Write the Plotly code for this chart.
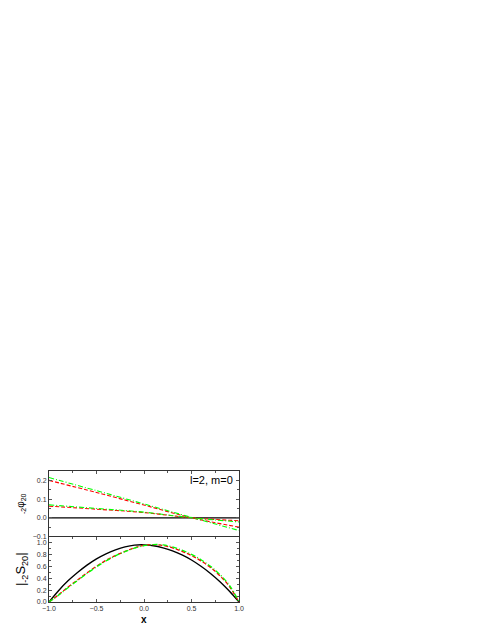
import plotly.graph_objects as go
from plotly.subplots import make_subplots

# x grid for the top panel curves
x_top = [-1.0, -0.5, 0.0, 0.5, 1.0]
phi_green_hi = [0.215, 0.145, 0.074, 0.002, -0.068]
phi_red_hi = [0.200, 0.135, 0.068, 0.000, -0.050]
phi_green_lo = [0.069, 0.050, 0.030, 0.000, -0.022]
phi_red_lo = [0.062, 0.046, 0.028, 0.000, -0.016]
phi_black = [0.0, 0.0, 0.0, 0.0, 0.0]

# x grid for the bottom panel curves
x_bot = [-1.0, -0.9, -0.8, -0.7, -0.6, -0.5, -0.4, -0.3, -0.2, -0.1, 0.0,
         0.1, 0.2, 0.3, 0.4, 0.5, 0.6, 0.7, 0.8, 0.9, 1.0]
s_black = [0.0, 0.19, 0.355, 0.495, 0.62, 0.725, 0.81, 0.875, 0.925, 0.955, 0.96,
           0.945, 0.91, 0.86, 0.79, 0.705, 0.60, 0.48, 0.34, 0.18, 0.0]
s_red = [0.0, 0.12, 0.25, 0.37, 0.49, 0.60, 0.70, 0.78, 0.85, 0.91, 0.95,
         0.965, 0.95, 0.91, 0.85, 0.78, 0.69, 0.58, 0.44, 0.26, 0.0]
s_green = [0.0, 0.115, 0.24, 0.36, 0.48, 0.59, 0.69, 0.775, 0.845, 0.905, 0.945,
           0.965, 0.96, 0.925, 0.87, 0.80, 0.71, 0.60, 0.46, 0.28, 0.0]

FONT = 'Arial, Liberation Sans, sans-serif'
RED_DASH = '4px,2px'
GREEN_DASH = '5px,2px,1px,2px'

fig = make_subplots(rows=2, cols=1, shared_xaxes=True, vertical_spacing=0)

# top panel
fig.add_trace(go.Scatter(x=x_top, y=phi_black, mode='lines',
                         line=dict(color='black', width=1.3)), row=1, col=1)
for ys, col, dash in [(phi_red_hi, '#ff0000', RED_DASH), (phi_green_hi, '#00ff00', GREEN_DASH),
                      (phi_red_lo, '#ff0000', RED_DASH), (phi_green_lo, '#00ff00', GREEN_DASH)]:
    fig.add_trace(go.Scatter(x=x_top, y=ys, mode='lines',
                             line=dict(color=col, width=1.1, dash=dash, shape='spline')),
                  row=1, col=1)

# bottom panel
fig.add_trace(go.Scatter(x=x_bot, y=s_black, mode='lines',
                         line=dict(color='black', width=1.4, shape='spline')), row=2, col=1)
fig.add_trace(go.Scatter(x=x_bot, y=s_red, mode='lines',
                         line=dict(color='#ff0000', width=1.3, dash=RED_DASH, shape='spline')),
              row=2, col=1)
fig.add_trace(go.Scatter(x=x_bot, y=s_green, mode='lines',
                         line=dict(color='#00ff00', width=1.3, dash=GREEN_DASH, shape='spline')),
              row=2, col=1)

axis_common = dict(showline=True, linecolor='#333', linewidth=1,
                   ticks='inside', ticklen=3, tickcolor='#555', showgrid=False, zeroline=False,
                   tickfont=dict(family=FONT, size=7, color='#333'))

fig.update_xaxes(range=[-1, 1], dtick=0.5, tickformat='.1f',
                 minor=dict(ticks='inside', ticklen=2, dtick=0.25, tickcolor='#555'),
                 **axis_common)
fig.update_xaxes(showticklabels=False, side='top', mirror=False, row=1, col=1)
fig.update_xaxes(mirror='ticks', row=2, col=1)

fig.update_yaxes(range=[-0.1, 0.25], dtick=0.1, tickformat='.1f', mirror='ticks',
                 minor=dict(ticks='inside', ticklen=2, dtick=0.05, tickcolor='#555'),
                 title=dict(text='<sub>-2</sub>φ<sub>20</sub>',
                            font=dict(family=FONT, size=10, color='black'), standoff=6),
                 row=1, col=1, **axis_common)
fig.update_yaxes(range=[0, 1.1], tickvals=[0, 0.2, 0.4, 0.6, 0.8, 1.0], tickformat='.1f',
                 mirror='ticks',
                 minor=dict(ticks='inside', ticklen=2, tickvals=[0.1, 0.3, 0.5, 0.7, 0.9],
                            tickcolor='#555'),
                 title=dict(text='|<sub>-2</sub>S<sub>20</sub>|',
                            font=dict(family=FONT, size=13, color='black'), standoff=8),
                 row=2, col=1, **axis_common)

fig.add_annotation(x=0.96, y=0.2, xref='x', yref='y', text='l=2, m=0', showarrow=False,
                   xanchor='right', yanchor='middle',
                   font=dict(family=FONT, size=11, color='black'))
fig.add_annotation(x=0, y=0, xref='x2', yref='paper', text='<b>x</b>', showarrow=False,
                   xanchor='center', yanchor='top', yshift=-10,
                   font=dict(family=FONT, size=10, color='black'))

fig.update_layout(
    width=491, height=635,
    margin=dict(l=38, r=260, t=463, b=41),
    paper_bgcolor='white', plot_bgcolor='white',
    showlegend=False,
)

fig.write_html("out.html")
